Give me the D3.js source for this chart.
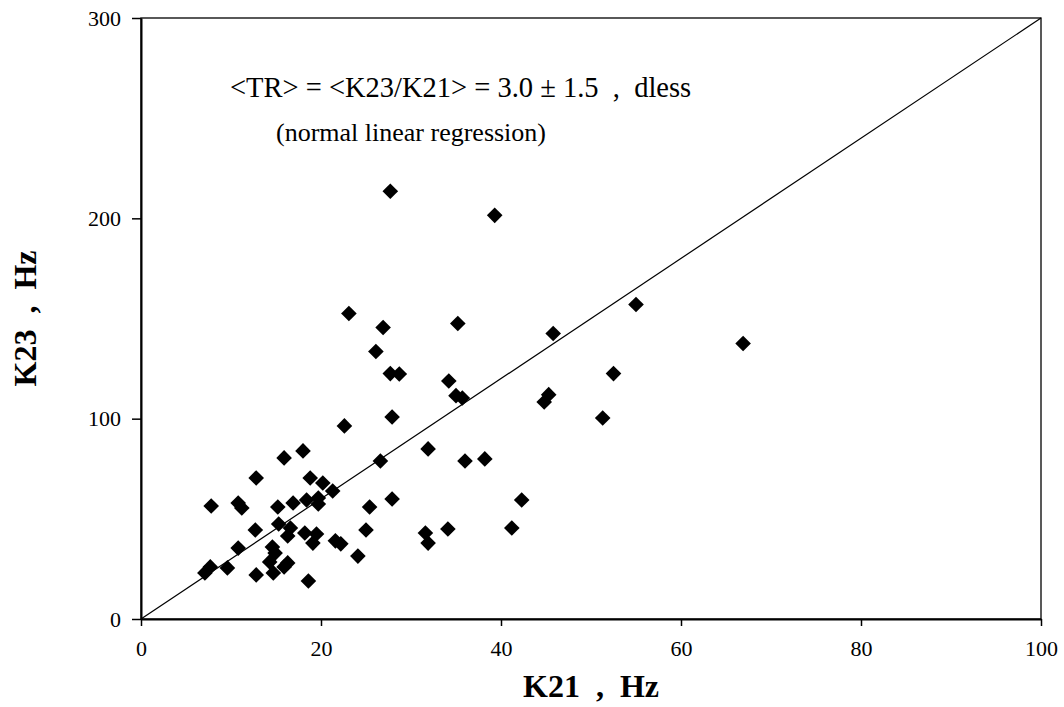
<!DOCTYPE html>
<html>
<head>
<meta charset="utf-8">
<script src="https://cdn.jsdelivr.net/npm/d3@7"></script>
<style>
	body { margin: 0; background: #fff; }
	svg { display: block; font-family: "Liberation Serif", "Times New Roman", serif; }
	.pre { white-space: pre; }
</style>
</head>
<body>
<div class="svg-container"></div>
<script>
(function () {

	"use strict";

	// data
	var k21 = [ 27.7, 39.3, 23.1, 26.9, 35.2, 55.0, 45.8, 66.9, 26.1, 27.7,
				28.7, 34.2, 35.0, 35.7, 52.5, 45.3, 44.8, 51.3, 27.9, 22.6,
				18.0, 31.9, 26.6, 36.0, 38.2, 12.8, 15.9, 18.8, 20.2, 21.3,
				19.7, 19.7, 18.4, 16.9, 27.9, 7.8, 10.8, 11.2, 15.2, 25.4,
				42.3, 15.3, 16.6, 16.3, 12.7, 25.0, 34.1, 41.2, 31.6, 31.9,
				10.8, 18.2, 19.5, 19.1, 21.6, 22.2, 24.1, 14.6, 14.9, 14.3,
				16.3, 14.7, 15.9, 9.6, 7.7, 7.1, 12.8, 18.6 ];

	var k23 = [ 213.5, 201.5, 152.5, 145.5, 147.5, 157.0, 142.5, 137.5, 133.5, 122.5,
				122.3, 118.8, 111.5, 110.3, 122.5, 112.0, 108.3, 100.3, 100.8, 96.4,
				83.9, 84.9, 78.9, 78.9, 79.9, 70.4, 80.4, 70.4, 67.9, 63.9,
				60.4, 57.4, 59.4, 57.9, 59.9, 56.4, 57.9, 55.4, 55.9, 55.9,
				59.4, 47.4, 45.4, 41.4, 44.4, 44.4, 44.9, 45.4, 42.9, 37.9,
				35.4, 42.9, 42.4, 37.9, 39.0, 37.5, 31.4, 35.9, 32.9, 28.5,
				28.0, 23.0, 26.0, 25.5, 26.0, 23.0, 22.0, 19.0 ];

	var x_ticks = [ 0, 20, 40, 60, 80, 100 ];
	var y_ticks = [ 0, 100, 200, 300 ];
	var ratio 	= 3.0;		// <K23/K21>

	var container 	= d3.select(".svg-container"),
		svg_width 	= 1064,
		svg_height 	= 707,
		margin 		= { "top": 18, "right": 23, "bottom": 88, "left": 141 };

	var width = svg_width - margin.left - margin.right,
		height = svg_height - margin.top - margin.bottom;

	var svg = container.append("svg")
		.attr("width", svg_width)
		.attr("height", svg_height);

	var g = svg.append("g")
		.attr("transform", "translate(" + margin.left + "," + margin.top + ")");

	var x = d3.scaleLinear().domain([0, 100]).range([0, width]);
	var y = d3.scaleLinear().domain([0, 300]).range([height, 0]);

	// frame
	g.append("rect")
		.attr("width", width)
		.attr("height", height)
		.attr("fill", "none")
		.attr("stroke", "#000")
		.attr("stroke-width", 1.3);

	// axes
	var x_axis = g.append("g")
		.attr("transform", "translate(0," + height + ")")
		.call(d3.axisBottom(x).tickValues(x_ticks).tickSize(7).tickPadding(14).tickSizeOuter(0));

	var y_axis = g.append("g")
		.call(d3.axisLeft(y).tickValues(y_ticks).tickSize(9).tickPadding(11).tickSizeOuter(0));

	[x_axis, y_axis].forEach(function (a) {
		a.select(".domain").attr("stroke", "#000").attr("stroke-width", 2);
		a.selectAll(".tick line").attr("stroke", "#000").attr("stroke-width", 1.5);
		a.selectAll(".tick text")
			.attr("fill", "#000")
			.style("font-family", "'Liberation Serif', serif")
			.style("font-size", "22px");
	});

	// regression line y = ratio * x
	g.append("line")
		.attr("x1", x(0))
		.attr("y1", y(0))
		.attr("x2", x(100))
		.attr("y2", y(100 * ratio))
		.attr("stroke", "#000")
		.attr("stroke-width", 1.2);

	// points
	var diamond = d3.symbol().type(d3.symbolSquare).size(122);

	g.selectAll(".pt")
		.data(d3.range(k21.length))
		.enter()
		.append("path")
		.attr("class", "pt")
		.attr("d", diamond)
		.attr("fill", "#000")
		.attr("transform", function (i) { return "translate(" + x(k21[i]) + "," + y(k23[i]) + ") rotate(45)"; });

	// annotation
	svg.append("text")
		.attr("class", "pre")
		.attr("x", 230)
		.attr("y", 97)
		.style("font-size", "28.5px")
		.text("<TR> = <K23/K21> = 3.0 \u00b1 1.5  ,  dless");

	svg.append("text")
		.attr("x", 276)
		.attr("y", 141)
		.style("font-size", "26px")
		.text("(normal linear regression)");

	// axis titles
	svg.append("text")
		.attr("class", "pre")
		.attr("x", margin.left + width / 2)
		.attr("y", 697)
		.attr("text-anchor", "middle")
		.style("font-size", "32px")
		.style("font-weight", "bold")
		.text("K21  ,  Hz");

	svg.append("text")
		.attr("class", "pre")
		.attr("transform", "translate(36," + (margin.top + height / 2) + ") rotate(-90)")
		.attr("text-anchor", "middle")
		.style("font-size", "32px")
		.style("font-weight", "bold")
		.text("K23  ,  Hz");

})();
</script>
</body>
</html>
